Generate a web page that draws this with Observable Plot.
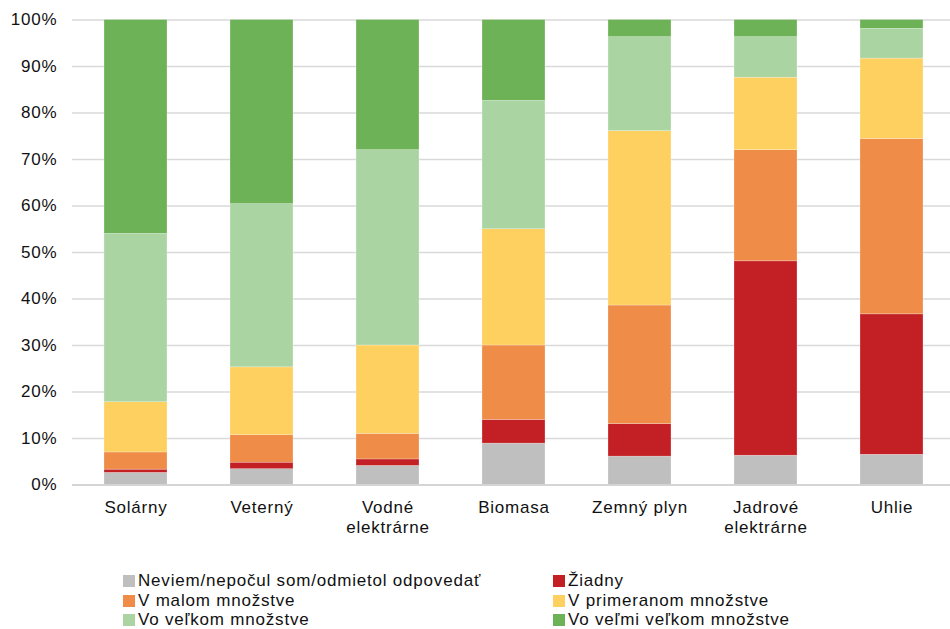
<!DOCTYPE html>
<html>
<head>
<meta charset="utf-8">
<script src="https://cdn.jsdelivr.net/npm/d3@7"></script>
<script src="https://cdn.jsdelivr.net/npm/@observablehq/plot@0.6"></script>
<style>
  html, body { margin: 0; padding: 0; background: #fff; }
  body { font-family: "Liberation Sans", Arial, sans-serif; }
  #wrap { position: relative; width: 950px; height: 629px; }
  #legend { position: absolute; left: 0; top: 0; width: 950px; }
  .li { position: absolute; display: flex; align-items: center; font-size: 17px; letter-spacing: 0.8px; color: #111; white-space: nowrap; }
  .sw { width: 12px; height: 12px; margin-right: 3px; display: inline-block; }
  svg text { letter-spacing: 0.8px; }
</style>
</head>
<body>
<div id="wrap"><div id="chart"></div><div id="legend"></div></div>
<script>
const categories = ["Solárny", "Veterný", "Vodné elektrárne", "Biomasa", "Zemný plyn", "Jadrové elektrárne", "Uhlie"];
const tickLabels = ["Solárny", "Veterný", "Vodné\nelektrárne", "Biomasa", "Zemný plyn", "Jadrové\nelektrárne", "Uhlie"];
const seriesNames = ["Neviem/nepočul som/odmietol odpovedať", "Žiadny", "V malom množstve", "V primeranom množstve", "Vo veľkom množstve", "Vo veľmi veľkom množstve"];
const seriesColors = ["#BFBFBF", "#C32026", "#EE8C48", "#FED060", "#AAD5A3", "#6EB257"];
const neviem      = [2.6, 3.4, 4.1, 8.9, 6.1, 6.3, 6.5];
const ziadny      = [0.7, 1.4, 1.4, 5.1, 7.0, 41.8, 30.2];
const malom       = [3.7, 5.9, 5.5, 16.0, 25.5, 23.9, 37.7];
const primeranom  = [10.8, 14.6, 19.0, 25.0, 37.5, 15.6, 17.3];
const velkom      = [36.2, 35.1, 42.0, 27.6, 20.2, 8.7, 6.4];
const velmiVelkom = [46.0, 39.6, 28.0, 17.4, 3.7, 3.7, 1.9];
const yTicks = [0, 0.1, 0.2, 0.3, 0.4, 0.5, 0.6, 0.7, 0.8, 0.9, 1.0];

const seriesValues = [neviem, ziadny, malom, primeranom, velkom, velmiVelkom];
const data = [];
seriesNames.forEach((s, si) => categories.forEach((c, ci) => data.push({category: c, series: s, value: seriesValues[si][ci] / 100})));

const chart = Plot.plot({
  width: 950,
  height: 560,
  marginTop: 19.5,
  marginBottom: 75.5,
  marginLeft: 72,
  marginRight: 0,
  style: {fontFamily: "'Liberation Sans', Arial, sans-serif", fontSize: "17px", color: "#111", background: "#fff"},
  x: {domain: categories, range: [72, 955], paddingInner: 0.5, paddingOuter: 0.25, label: null},
  y: {domain: [0, 1], label: null},
  color: {domain: seriesNames, range: seriesColors},
  marks: [
    Plot.gridY(yTicks, {stroke: "#D9D9D9", strokeOpacity: 1, strokeWidth: 1.3}),
    Plot.barY(data, {x: "category", y: "value", fill: "series", order: seriesNames, stroke: "#fff", strokeOpacity: 0.4, strokeWidth: 0.6}),
    Plot.ruleY([0], {stroke: "#D0D0D0", strokeWidth: 1.5}),
    Plot.axisY({ticks: yTicks, tickSize: 0, tickPadding: 15, tickFormat: d3.format(".0%"), fontSize: 17, label: null}),
    Plot.axisX({tickSize: 0, tickPadding: 14, tickFormat: (d) => tickLabels[categories.indexOf(d)], fontSize: 17, lineHeight: 1.18, label: null})
  ]
});
document.getElementById("chart").appendChild(chart);

const legend = document.getElementById("legend");
const pos = [[123, 581], [553, 581], [123, 601], [553, 601], [123, 620], [553, 620]];
seriesNames.forEach((s, i) => {
  const el = document.createElement("div");
  el.className = "li";
  el.style.left = pos[i][0] + "px";
  el.style.top = (pos[i][1] - 10) + "px";
  el.style.height = "20px";
  el.innerHTML = `<span class="sw" style="background:${seriesColors[i]}"></span><span>${s}</span>`;
  legend.appendChild(el);
});
</script>
</body>
</html>
